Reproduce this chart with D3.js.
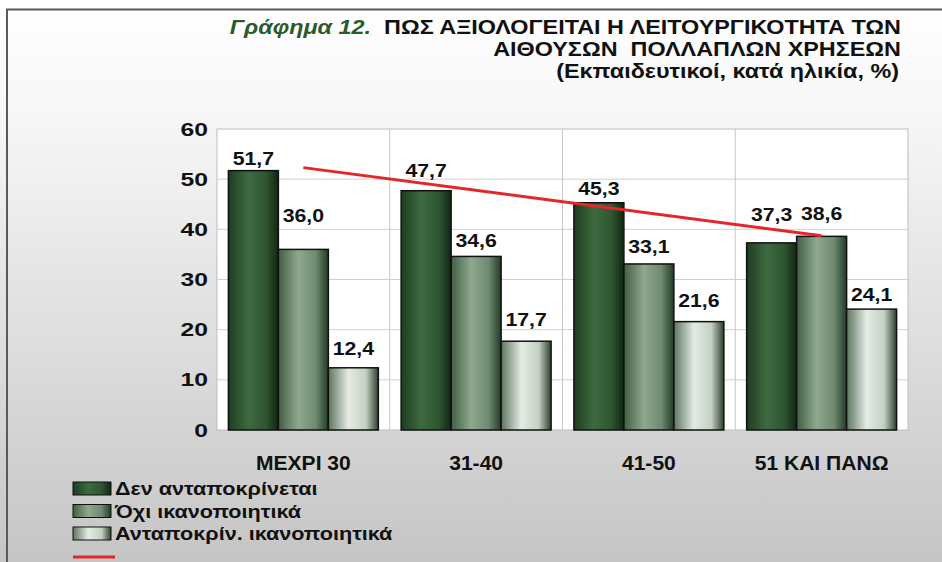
<!DOCTYPE html>
<html>
<head>
<meta charset="utf-8">
<script src="https://cdn.jsdelivr.net/npm/d3@7"></script>
<style>
  html, body { margin: 0; padding: 0; background: #fff; }
  svg { display: block; font-family: "Liberation Sans", Arial, sans-serif; }
</style>
</head>
<body>
<div id="chart"></div>
<script>
// chart data
var categories = ["ΜΕΧΡΙ 30", "31-40", "41-50", "51 ΚΑΙ ΠΑΝΩ"];
var seriesNames = ["Δεν ανταποκρίνεται", "Όχι ικανοποιητικά", "Ανταποκρίν. ικανοποιητικά"];
var notResponding = [51.7, 47.7, 45.3, 37.3];
var notSatisfying = [36.0, 34.6, 33.1, 38.6];
var satisfying = [12.4, 17.7, 21.6, 24.1];
// trend line of the first series, read at first and last category
var trendValues = [52.3, 38.7];
var yTicks = [0, 10, 20, 30, 40, 50, 60];

var seriesValues = [notResponding, notSatisfying, satisfying];

// gap (px) between each value label and the top of its bar, per category and series,
// labels were hand placed in the original
var labelGap = [[6, 27, 13], [14, 9, 15], [8, 11, 15], [22, 16, 8]];

var W = 942, H = 562;
var margin = { top: 129, right: 34, bottom: 132, left: 217 };
var width = W - margin.left - margin.right,
    height = H - margin.top - margin.bottom;

var svg = d3.select("#chart").append("svg")
  .attr("width", W)
  .attr("height", H);

var defs = svg.append("defs");

// the original text is a little wider than Arial, stretch it horizontally
function stretch(sel, x, y, sx) {
  sel.attr("x", null).attr("y", null)
    .attr("transform", "translate(" + x + "," + y + ") scale(" + sx + ",1)");
  return sel;
}

// page background (white to grey)
var bg = defs.append("linearGradient").attr("id", "bg")
  .attr("x1", 0).attr("y1", 0).attr("x2", 0).attr("y2", 1);
bg.append("stop").attr("offset", "0%").attr("stop-color", "#ffffff");
bg.append("stop").attr("offset", "22%").attr("stop-color", "#f6f6f6");
bg.append("stop").attr("offset", "100%").attr("stop-color", "#c5c5c5");

svg.append("rect").attr("width", W).attr("height", H).attr("fill", "url(#bg)");

// frame, only top and left are visible
svg.append("path")
  .attr("d", "M7 " + H + " L7 9.5 L" + W + " 9.5")
  .attr("fill", "none")
  .attr("stroke", "#5a5a5a")
  .attr("stroke-width", 2);

// bar gradients (cylinder-ish shading)
var barColors = [
  ["#1f3d21", "#3d6a40", "#2f5632", "#112613"],
  ["#415f43", "#8fa88f", "#6e8a70", "#243a26"],
  ["#5d755f", "#e4ebe4", "#c3d0c3", "#2d3f2e"]
];
barColors.forEach(function(c, i) {
  var gr = defs.append("linearGradient").attr("id", "bar" + i)
    .attr("x1", 0).attr("y1", 0).attr("x2", 1).attr("y2", 0);
  gr.append("stop").attr("offset", "0%").attr("stop-color", c[0]);
  gr.append("stop").attr("offset", "40%").attr("stop-color", c[1]);
  gr.append("stop").attr("offset", "75%").attr("stop-color", c[2]);
  gr.append("stop").attr("offset", "100%").attr("stop-color", c[3]);
});

// title
var title = svg.append("g").attr("font-weight", "bold").attr("text-anchor", "end");
var t1 = stretch(title.append("text").attr("font-size", 20), 901, 34, 1.17);
t1.append("tspan").attr("fill", "#2b5a2c").attr("font-style", "italic").text("Γράφημα 12.");
t1.append("tspan").attr("fill", "#111").text("\u00a0 ΠΩΣ ΑΞΙΟΛΟΓΕΙΤΑΙ Η ΛΕΙΤΟΥΡΓΙΚΟΤΗΤΑ ΤΩΝ");
stretch(title.append("text").attr("font-size", 20).attr("fill", "#111"), 901, 56, 1.17)
  .text("ΑΙΘΟΥΣΩΝ\u00a0 ΠΟΛΛΑΠΛΩΝ ΧΡΗΣΕΩΝ");
stretch(title.append("text").attr("font-size", 19.5).attr("fill", "#111"), 899, 78, 1.2)
  .text("(Εκπαιδευτικοί, κατά ηλικία, %)");

var g = svg.append("g").attr("transform", "translate(" + margin.left + "," + margin.top + ")");

// scales
var x0 = d3.scaleBand().domain(categories).range([0, width]);
var groupPad = x0.bandwidth() * 0.066;
var x1 = d3.scaleBand().domain(d3.range(seriesValues.length))
  .range([groupPad, x0.bandwidth() - groupPad]);
var y = d3.scaleLinear().domain([0, 60]).range([height, 0]);

// plot area
g.append("rect").attr("width", width).attr("height", height)
  .attr("fill", "#fff").attr("stroke", "#bdbdbd");

g.append("g").selectAll("line.hgrid").data(yTicks.slice(1, -1)).enter()
  .append("line")
  .attr("x1", 0).attr("x2", width)
  .attr("y1", d => y(d)).attr("y2", d => y(d))
  .attr("stroke", "#d0d0d0");

g.append("g").selectAll("line.vgrid").data(categories.slice(1)).enter()
  .append("line")
  .attr("x1", d => x0(d)).attr("x2", d => x0(d))
  .attr("y1", 0).attr("y2", height)
  .attr("stroke", "#c8c8c8");

// y axis
var yAxis = g.append("g")
  .call(d3.axisLeft(y).tickValues(yTicks).tickSize(0).tickPadding(9));
yAxis.select(".domain").remove();
yAxis.selectAll("text")
  .attr("font-family", "Liberation Sans, Arial, sans-serif")
  .attr("font-size", 19).attr("font-weight", "bold").attr("fill", "#111")
  .each(function() { stretch(d3.select(this), -9, 0, 1.3); });

// x axis
var xAxis = g.append("g").attr("transform", "translate(0," + height + ")")
  .call(d3.axisBottom(x0).tickSize(0).tickPadding(26));
xAxis.select(".domain").remove();
xAxis.selectAll("text")
  .attr("font-family", "Liberation Sans, Arial, sans-serif")
  .attr("font-size", 19.5).attr("font-weight", "bold").attr("fill", "#111")
  .attr("dy", null)
  .each(function() { stretch(d3.select(this), 0, 40, 1.08); });

// bars
var rows = categories.map(function(c, ci) {
  return { cat: c, ci: ci, values: seriesValues.map(function(s, si) { return { si: si, ci: ci, v: s[ci] }; }) };
});

var groups = g.selectAll(".grp").data(rows).enter().append("g")
  .attr("class", "grp")
  .attr("transform", d => "translate(" + x0(d.cat) + ",0)");

groups.selectAll("rect").data(d => d.values).enter().append("rect")
  .attr("x", d => x1(d.si))
  .attr("y", d => y(d.v))
  .attr("width", x1.bandwidth())
  .attr("height", d => height - y(d.v))
  .attr("fill", d => "url(#bar" + d.si + ")")
  .attr("stroke", "#111")
  .attr("stroke-width", 1.5);

// value labels
groups.selectAll("text").data(d => d.values).enter().append("text")
  .attr("text-anchor", "middle")
  .attr("font-size", 19).attr("font-weight", "bold").attr("fill", "#111")
  .text(d => d3.format(".1f")(d.v).replace(".", ","))
  .each(function(d) {
    stretch(d3.select(this), x1(d.si) + x1.bandwidth() / 2, y(d.v) - labelGap[d.ci][d.si], 1.12);
  });

// trend line
var first = categories[0], last = categories[categories.length - 1];
g.append("line")
  .attr("x1", x0(first) + x0.bandwidth() / 2)
  .attr("y1", y(trendValues[0]))
  .attr("x2", x0(last) + x0.bandwidth() / 2)
  .attr("y2", y(trendValues[1]))
  .attr("stroke", "#e3262a")
  .attr("stroke-width", 3);

// legend
var legend = svg.append("g").attr("transform", "translate(73,482)");
var li = legend.selectAll(".li").data(seriesNames).enter().append("g")
  .attr("transform", (d, i) => "translate(0," + i * 22.5 + ")");
li.append("rect").attr("width", 38).attr("height", 13)
  .attr("fill", (d, i) => "url(#bar" + i + ")")
  .attr("stroke", "#111").attr("stroke-width", 1);
li.append("text")
  .attr("font-size", 18).attr("font-weight", "bold").attr("fill", "#111")
  .text(d => d)
  .each(function() { stretch(d3.select(this), 42, 13, 1.2); });
legend.append("line")
  .attr("x1", 0).attr("x2", 42).attr("y1", 75).attr("y2", 75)
  .attr("stroke", "#e3262a").attr("stroke-width", 3);
</script>
</body>
</html>
